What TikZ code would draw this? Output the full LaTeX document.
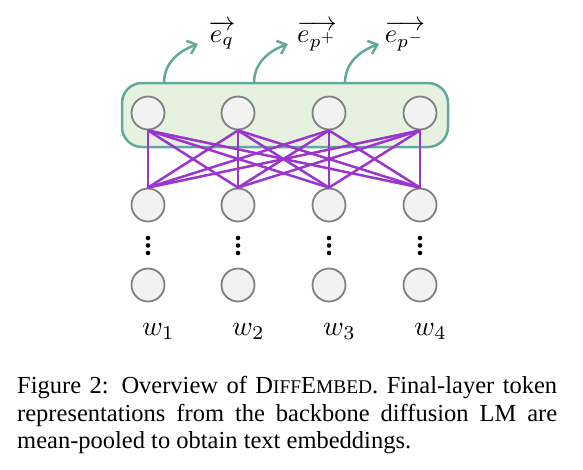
\documentclass[tikz,border=0pt]{standalone}
\usepackage{amsmath}
\usepackage{graphicx}
\usepackage{fontspec}
\setmainfont{Liberation Serif}
\usetikzlibrary{positioning,calc,arrows.meta}
\definecolor{cellgray}{HTML}{F2F2F2}
\definecolor{rimgray}{HTML}{808080}
\definecolor{poolgreen}{HTML}{E6F2DF}
\definecolor{poolteal}{HTML}{62A99B}
\definecolor{linkpurple}{HTML}{9B35CF}
\newcommand{\capsize}{\fontsize{24.5}{27.5}\selectfont}
\newcommand{\smc}[1]{{\fontsize{19.4}{20}\selectfont #1}}
\newcommand{\vecbig}[1]{\scalebox{2.65}{$\overrightarrow{#1}$}}
\newcommand{\wordbig}[1]{\scalebox{2.8}{$w_{#1}$}}
\tikzstyle{tok} = [draw=rimgray, fill=cellgray, circle, minimum size=33pt, inner sep=0pt, line width=1.8pt]
\tikzstyle{pool} = [draw=poolteal, fill=poolgreen, line width=2.5pt, rounded corners=20pt]
\tikzstyle{emit} = [-{Straight Barb[length=8pt,width=14pt,line width=2.5pt]}, draw=poolteal, line width=2.5pt]
\tikzstyle{link} = [draw=linkpurple, line width=2.5pt]
\tikzstyle{emb} = [inner sep=0pt]
\tikzstyle{word} = [inner sep=0pt]

\begin{document}
\begin{tikzpicture}[x=1pt,y=-1pt]
		\useasboundingbox (0,0) rectangle (583,469);
		% pooling box
		\draw[pool] (122,83) rectangle (448,147);
		% token columns
		\foreach \i/\x in {1/148,2/238,3/329,4/420}{
			\node (t\i) [tok] at (\x,113) {};
			\node (h\i) [tok] at (\x,205) {};
			\node (b\i) [tok] at (\x,285) {};
			\foreach \dy in {238,245.5,253}
				\fill (\x,\dy) circle (2.3pt);
			\node (w\i) [word,anchor=base west] at (\x-6,335) {\wordbig{\i}};
		}
		% full connections
		\foreach \i in {1,...,4}
			\foreach \j in {1,...,4}
				\draw[link] (t\i.south) -- (h\j.north);
		% outputs
		\node (eq) [emb,anchor=base] at (222,42) {\vecbig{e_q}};
		\node (epp) [emb,anchor=base] at (317,42) {\vecbig{e_{p^+}}};
		\node (epm) [emb,anchor=base] at (405,42) {\vecbig{e_{p^-}}};
		\coordinate (s1) at (164,83); \coordinate (s2) at (254,83); \coordinate (s3) at (345,83);
		\coordinate (d1) at (198,44); \coordinate (d2) at (288,44); \coordinate (d3) at (379,44);
		\draw[emit] (s1) to[out=90,in=200] (d1);
		\draw[emit] (s2) to[out=90,in=200] (d2);
		\draw[emit] (s3) to[out=90,in=200] (d3);
		% caption
		\node (cap1) [anchor=base west,inner sep=0pt] at (17,393) {\capsize\makebox[540pt][s]{Figure 2: Overview of D\smc{IFF}E\smc{MBED}. Final-layer token}};
		\node (cap2) [anchor=base west,inner sep=0pt] at (17,421) {\capsize\makebox[540pt][s]{representations from the backbone diffusion LM are}};
		\node (cap3) [anchor=base west,inner sep=0pt] at (17,448) {\capsize mean-pooled to obtain text embeddings.};
\end{tikzpicture}
\end{document}
